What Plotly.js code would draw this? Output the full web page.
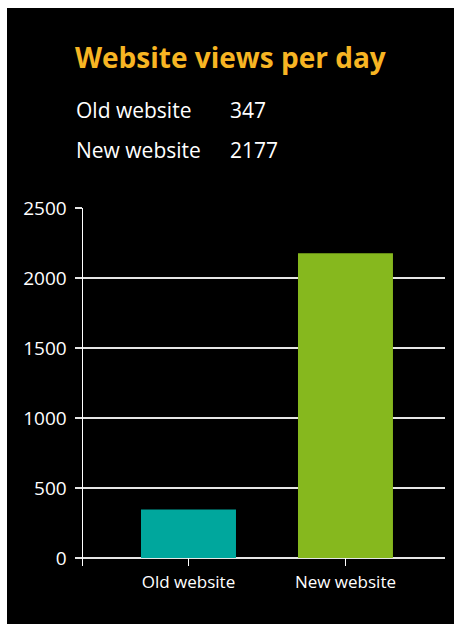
<!DOCTYPE html>
<html>
<head>
<meta charset="utf-8">
<script src="https://cdn.plot.ly/plotly-3.0.1.min.js"></script>
<style>
  html, body { margin: 0; padding: 0; background: #ffffff; width: 454px; height: 624px; overflow: hidden; }
  #chart { position: absolute; left: 7px; top: 8px; width: 447px; height: 616px; }
</style>
</head>
<body>
<div id="chart"></div>
<script>
const categories = ["Old website", "New website"];
const views = [347, 2177];
const barColors = ["#00A79D", "#86B81E"];
const titleText = "Website views per day";
const yTicks = [0, 500, 1000, 1500, 2000, 2500];

const FONT = "'Open Sans', 'Noto Sans', sans-serif";
const W = 447, H = 616;

const trace = {
  type: "bar",
  x: categories,
  y: views,
  marker: { color: barColors, line: { width: 0 } },
  width: 0.605,
  hoverinfo: "x+y"
};

const annotations = [];
categories.forEach((c, i) => {
  annotations.push({
    xref: "paper", yref: "paper", x: -9 / 362, y: 1, yshift: 98 - 40 * i,
    xanchor: "left", yanchor: "middle", showarrow: false,
    text: c, font: { family: FONT, size: 21, color: "#ffffff" }
  });
  annotations.push({
    xref: "paper", yref: "paper", x: 145 / 362, y: 1, yshift: 98 - 40 * i,
    xanchor: "left", yanchor: "middle", showarrow: false,
    text: String(views[i]), font: { family: FONT, size: 21, color: "#ffffff" }
  });
});

const layout = {
  width: W, height: H,
  paper_bgcolor: "#000000", plot_bgcolor: "#000000",
  margin: { l: 76, r: 9, t: 200, b: 58, pad: 0 },
  showlegend: false,
  title: {
    text: "<b>" + titleText + "</b>",
    font: { family: FONT, size: 28, color: "#F7B523" },
    xref: "container", yref: "container",
    x: 68 / W, xanchor: "left",
    y: 1 - 40 / H, yanchor: "top"
  },
  xaxis: {
    type: "category",
    range: [-0.672, 1.634],
    showgrid: false, zeroline: false, showline: false,
    ticks: "inside", ticklen: 8, tickwidth: 1.5, tickcolor: "#ffffff",
    ticklabelstandoff: 4,
    tickfont: { family: FONT, size: 17, color: "#ffffff" },
    fixedrange: true
  },
  yaxis: {
    range: [-57.14, 2500.5],
    tickvals: yTicks,
    ticktext: yTicks.map(String),
    showgrid: true, gridcolor: "#e6e6e6", gridwidth: 1.2,
    zeroline: false,
    showline: true, linecolor: "#ffffff", linewidth: 1.5,
    ticks: "outside", ticklen: 7, tickwidth: 1.2, tickcolor: "#e6e6e6",
    ticklabelstandoff: 4,
    tickfont: { family: FONT, size: 19, color: "#ffffff" },
    fixedrange: true
  },
  annotations: annotations
};

Plotly.newPlot("chart", [trace], layout, { displayModeBar: false, staticPlot: true });
</script>
</body>
</html>
